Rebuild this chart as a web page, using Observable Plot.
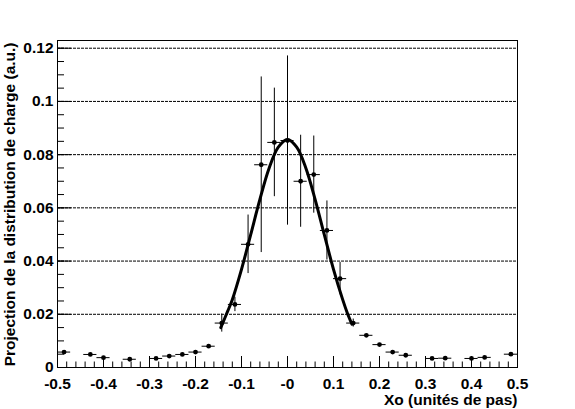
<!DOCTYPE html>
<html>
<head>
<meta charset="utf-8">
<script src="https://cdn.jsdelivr.net/npm/d3@7"></script>
<script src="https://cdn.jsdelivr.net/npm/@observablehq/plot@0.6"></script>
<style>
  html, body { margin: 0; padding: 0; background: white; }
  #chart svg { display: block; }
</style>
</head>
<body>
<div id="chart"></div>
<script>
// Bin centres (x), values (y), vertical errors (ey)
const binX = [-0.4857, -0.4286, -0.4000, -0.3429, -0.2857, -0.2571, -0.2286, -0.2000, -0.1714,
              -0.1429, -0.1143, -0.0857, -0.0571, -0.0286, 0.0000, 0.0286, 0.0571, 0.0857,
              0.1143, 0.1429, 0.1714, 0.2000, 0.2286, 0.2571, 0.3143, 0.3429, 0.4000, 0.4286, 0.4857];
const binY = [0.0058, 0.0049, 0.0037, 0.0031, 0.0034, 0.0043, 0.0049, 0.0058, 0.0080,
              0.0167, 0.0237, 0.0463, 0.0762, 0.0846, 0.0853, 0.0700, 0.0725, 0.0515,
              0.0334, 0.0167, 0.0121, 0.0086, 0.0058, 0.0046, 0.0034, 0.0035, 0.0034, 0.0038, 0.0050];
const binEY = [0, 0, 0, 0, 0, 0, 0, 0, 0,
               0.0034, 0.0027, 0.0110, 0.0330, 0.0204, 0.0318, 0.0173, 0.0145, 0.0111,
               0.0061, 0.0015, 0, 0, 0, 0, 0, 0, 0, 0, 0];
const binHalfWidth = 0.0143;

// Fit curve
const fitX = [-0.145, -0.13, -0.12, -0.10, -0.08, -0.06, -0.04, -0.02, 0.00, 0.02, 0.04, 0.06, 0.08, 0.10, 0.12, 0.13, 0.14];
const fitY = [0.0150, 0.0212, 0.0255, 0.0369, 0.0499, 0.0632, 0.0749, 0.0828, 0.0857, 0.0828, 0.0749, 0.0632, 0.0499, 0.0369, 0.0255, 0.0205, 0.0163];

// Ticks
const xMajorTicks = [-0.5, -0.4, -0.3, -0.2, -0.1, 0, 0.1, 0.2, 0.3, 0.4, 0.5];
const xTickLabels = ["-0.5", "-0.4", "-0.3", "-0.2", "-0.1", "-0", "0.1", "0.2", "0.3", "0.4", "0.5"];
const yMajorTicks = [0, 0.02, 0.04, 0.06, 0.08, 0.10, 0.12];
const yTickLabels = ["0", "0.02", "0.04", "0.06", "0.08", "0.1", "0.12"];
const xMinorTicks = d3.range(-50, 51, 2).map(v => v / 100);
const yMinorTicks = d3.range(0, 123, 5).map(v => v / 1000);

const xTitle = "Xo (unités de pas)";
const yTitle = "Projection de la distribution de charge (a.u.)";

const points = binX.map((x, i) => ({x, y: binY[i], ey: binEY[i]}));
const fit = fitX.map((x, i) => ({x, y: fitY[i]}));

const W = 575, H = 409;
const mL = 57, mR = 58, mT = 40, mB = 42;
const innerW = W - mL - mR, innerH = H - mT - mB;

const chart = Plot.plot({
  width: W, height: H,
  marginLeft: mL, marginRight: mR, marginTop: mT, marginBottom: mB,
  style: {fontFamily: "'Liberation Sans', Arial, Helvetica, sans-serif", fontWeight: "bold", fontSize: "15.5px", background: "white", color: "black", overflow: "visible"},
  x: {domain: [-0.5, 0.5]},
  y: {domain: [0, 0.1229]},
  marks: [
    Plot.gridY(yMajorTicks.slice(1), {stroke: "black", strokeOpacity: 1, strokeDasharray: "3,1", strokeWidth: 1}),
    Plot.frame({stroke: "black", strokeWidth: 1}),
    Plot.tickX(xMinorTicks, {x: d => d, stroke: "black", insetTop: innerH - 5.5}),
    Plot.tickX(xMajorTicks, {x: d => d, stroke: "black", insetTop: innerH - 11}),
    Plot.tickY(yMinorTicks, {y: d => d, stroke: "black", insetRight: innerW - 7}),
    Plot.tickY(yMajorTicks, {y: d => d, stroke: "black", insetRight: innerW - 14}),
    Plot.axisX(xMajorTicks, {tickSize: 0, tickPadding: 10, tickFormat: (d, i) => xTickLabels[i], label: null, fill: "black"}),
    Plot.axisY(yMajorTicks, {tickSize: 0, tickPadding: 4, tickFormat: (d, i) => yTickLabels[i], label: null, fill: "black"}),
    Plot.ruleX(points.filter(d => d.ey > 0), {x: "x", y1: d => d.y - d.ey, y2: d => d.y + d.ey, stroke: "black", strokeWidth: 1}),
    Plot.ruleY(points, {y: "y", x1: d => Math.max(-0.5, d.x - binHalfWidth), x2: d => Math.min(0.5, d.x + binHalfWidth), stroke: "black", strokeWidth: 1}),
    Plot.line(fit, {x: "x", y: "y", curve: "catmull-rom", stroke: "black", strokeWidth: 3}),
    Plot.dot(points, {x: "x", y: "y", r: 2.4, fill: "black", stroke: null}),
    Plot.text([xTitle], {frameAnchor: "bottom-right", textAnchor: "end", lineAnchor: "middle", dy: 33, text: d => d, fill: "black"}),
    Plot.text([yTitle], {frameAnchor: "top-left", rotate: -90, textAnchor: "end", lineAnchor: "middle", dx: -47, dy: 2, text: d => d, fill: "black"})
  ]
});
document.getElementById("chart").appendChild(chart);
</script>
</body>
</html>
